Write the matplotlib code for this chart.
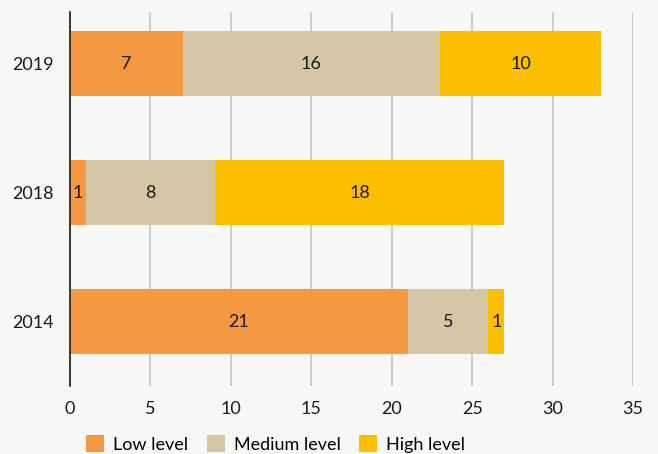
import matplotlib.pyplot as plt
import numpy as np

years = ["2014", "2018", "2019"]
low = [21, 1, 7]
medium = [5, 8, 16]
high = [1, 18, 10]
series_names = ["Low level", "Medium level", "High level"]
colors = ["#F59842", "#D5C7A5", "#FBBE00"]

plt.rcParams['font.family'] = ['Lato', 'DejaVu Sans']

bg = "#F7F7F5"
fig = plt.figure(figsize=(6.58, 4.54), dpi=100, facecolor=bg)
ax = fig.add_axes([0.1064, 0.1498, 0.8556, 0.8238], facecolor=bg)

y = np.arange(len(years))
left = np.zeros(len(years))
for vals, name, col in zip([low, medium, high], series_names, colors):
    vals = np.array(vals, dtype=float)
    bars = ax.barh(y, vals, left=left, height=0.5, color=col, label=name, zorder=2)
    for b, v in zip(bars, vals):
        ax.text(b.get_x() + b.get_width() / 2, b.get_y() + b.get_height() / 2,
                f"{int(v)}", ha="center", va="center", fontsize=13, color="#1a1a1a", zorder=3)
    left += vals

ax.set_xlim(0, 35)
ax.set_ylim(-0.5, 2.4)
ax.set_xticks(range(0, 36, 5))
ax.set_yticks(y)
ax.set_yticklabels(years)
ax.tick_params(axis="both", length=0, labelsize=13, colors="#1a1a1a")
ax.tick_params(axis="x", pad=11)
ax.tick_params(axis="y", pad=12)
ax.xaxis.grid(True, color="#C8C8C8", linewidth=1.3, zorder=0)
ax.set_axisbelow(True)
for s in ["top", "right", "bottom"]:
    ax.spines[s].set_visible(False)
ax.spines["left"].set_color("#1a1a1a")
ax.spines["left"].set_linewidth(1.2)
ax.spines["left"].set_zorder(4)

ax.legend(loc="upper center", bbox_to_anchor=(0.365, -0.113), ncol=3, frameon=False,
          fontsize=13, handlelength=1.0, handleheight=1.0, handletextpad=0.5,
          columnspacing=1.0, borderaxespad=0)

fig.savefig("out.png", dpi=100, facecolor=bg)
